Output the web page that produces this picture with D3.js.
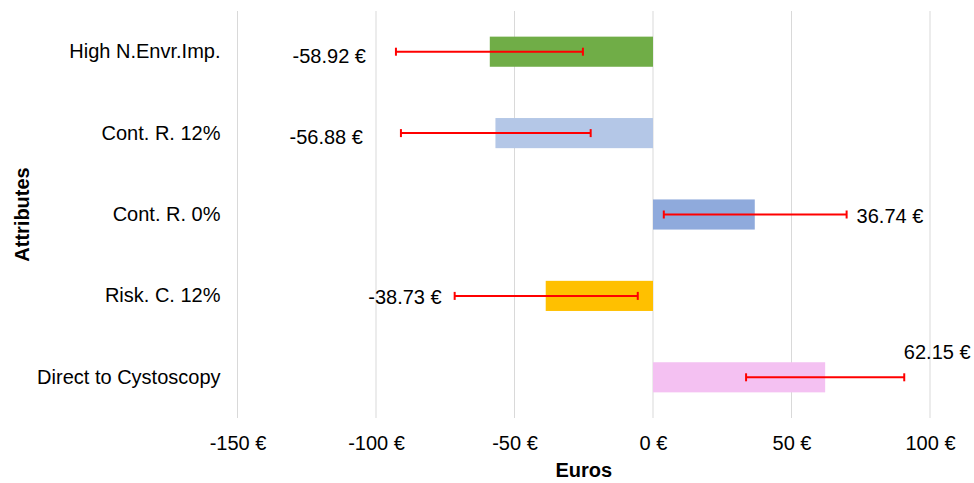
<!DOCTYPE html>
<html>
<head>
<meta charset="utf-8">
<script src="https://cdn.jsdelivr.net/npm/d3@7"></script>
<style>
  body { margin: 0; background: #fff; }
  svg { font-family: "Liberation Sans", Arial, sans-serif; }
</style>
</head>
<body>
<svg id="chart" width="974" height="483"></svg>
<script>
const categories = ["High N.Envr.Imp.", "Cont. R. 12%", "Cont. R. 0%", "Risk. C. 12%", "Direct to Cystoscopy"];
const values = [-58.92, -56.88, 36.74, -38.73, 62.15];
const errLow = [-92.8, -91.0, 3.9, -71.6, 33.6];
const errHigh = [-25.3, -22.5, 69.9, -5.5, 90.7];
const xTicks = [-150, -100, -50, 0, 50, 100];
const colors = ["#70AD47", "#B4C7E7", "#8FAADC", "#FFC000", "#F4C1F2"];
// label placement relative to the error bar end: [dx, dy, anchor]
const labelPlace = [[-30, 4, "end"], [-38, 4, "end"], [10, 1, "start"], [-13, 1, "end"], [33, -25, "middle"]];

const fs = 20;
const svg = d3.select("#chart");
const margin = {top: 11, right: 44, bottom: 65, left: 237.5};
const width = +svg.attr("width") - margin.left - margin.right;
const height = +svg.attr("height") - margin.top - margin.bottom;

const x = d3.scaleLinear().domain([-150, 100]).range([0, width]);
const y = d3.scaleBand().domain(categories).range([0, height])
    .paddingInner(0.63).paddingOuter(0.315);

const g = svg.append("g")
    .attr("transform", "translate(" + margin.left + "," + margin.top + ")");

// gridlines
g.append("g")
  .selectAll("line")
  .data(xTicks)
  .enter().append("line")
    .attr("x1", d => x(d)).attr("x2", d => x(d))
    .attr("y1", 0).attr("y2", height)
    .attr("stroke", "#D9D9D9")
    .attr("stroke-width", 1);

// x axis labels
const xAxis = g.append("g")
    .attr("transform", "translate(0," + height + ")")
    .call(d3.axisBottom(x).tickValues(xTicks).tickSize(0).tickPadding(18)
      .tickFormat(d => d + " €"));
xAxis.select(".domain").remove();
xAxis.selectAll("text").attr("font-size", fs).attr("fill", "#000")
    .attr("font-family", "Liberation Sans, Arial, sans-serif");

// y axis labels
const yAxis = g.append("g")
    .call(d3.axisLeft(y).tickSize(0).tickPadding(17));
yAxis.select(".domain").remove();
yAxis.selectAll("text").attr("font-size", fs).attr("fill", "#000")
    .attr("font-family", "Liberation Sans, Arial, sans-serif");

const rows = categories.map((c, i) => ({c, v: values[i], lo: errLow[i], hi: errHigh[i], col: colors[i], lp: labelPlace[i]}));

// bars
g.selectAll(".bar")
  .data(rows)
  .enter().append("rect")
    .attr("class", "bar")
    .attr("x", d => x(Math.min(0, d.v)))
    .attr("width", d => Math.abs(x(d.v) - x(0)))
    .attr("y", d => y(d.c))
    .attr("height", y.bandwidth())
    .attr("fill", d => d.col);

// error bars
const eb = g.selectAll(".err")
  .data(rows)
  .enter().append("g")
    .attr("class", "err")
    .attr("stroke", "#FF0000")
    .attr("stroke-width", 2);
eb.append("line")
    .attr("x1", d => x(d.lo)).attr("x2", d => x(d.hi))
    .attr("y1", d => y(d.c) + y.bandwidth() / 2)
    .attr("y2", d => y(d.c) + y.bandwidth() / 2);
eb.append("line")
    .attr("x1", d => x(d.lo)).attr("x2", d => x(d.lo))
    .attr("y1", d => y(d.c) + y.bandwidth() / 2 - 4)
    .attr("y2", d => y(d.c) + y.bandwidth() / 2 + 4);
eb.append("line")
    .attr("x1", d => x(d.hi)).attr("x2", d => x(d.hi))
    .attr("y1", d => y(d.c) + y.bandwidth() / 2 - 4)
    .attr("y2", d => y(d.c) + y.bandwidth() / 2 + 4);

// value labels
g.selectAll(".lbl")
  .data(rows)
  .enter().append("text")
    .attr("class", "lbl")
    .attr("x", d => (d.v < 0 ? x(d.lo) : x(d.hi)) + d.lp[0])
    .attr("y", d => y(d.c) + y.bandwidth() / 2 + d.lp[1])
    .attr("dy", "0.35em")
    .attr("text-anchor", d => d.lp[2])
    .attr("font-size", fs)
    .attr("fill", "#000")
    .text(d => d.v.toFixed(2) + " €");

// axis titles
svg.append("text")
    .attr("x", margin.left + x(-25))
    .attr("y", 470)
    .attr("dy", "0.35em")
    .attr("text-anchor", "middle")
    .attr("font-size", fs)
    .attr("font-weight", "bold")
    .text("Euros");

svg.append("text")
    .attr("transform", "translate(22," + (margin.top + height / 2) + ") rotate(-90)")
    .attr("dy", "0.35em")
    .attr("text-anchor", "middle")
    .attr("font-size", fs)
    .attr("font-weight", "bold")
    .text("Attributes");
</script>
</body>
</html>
